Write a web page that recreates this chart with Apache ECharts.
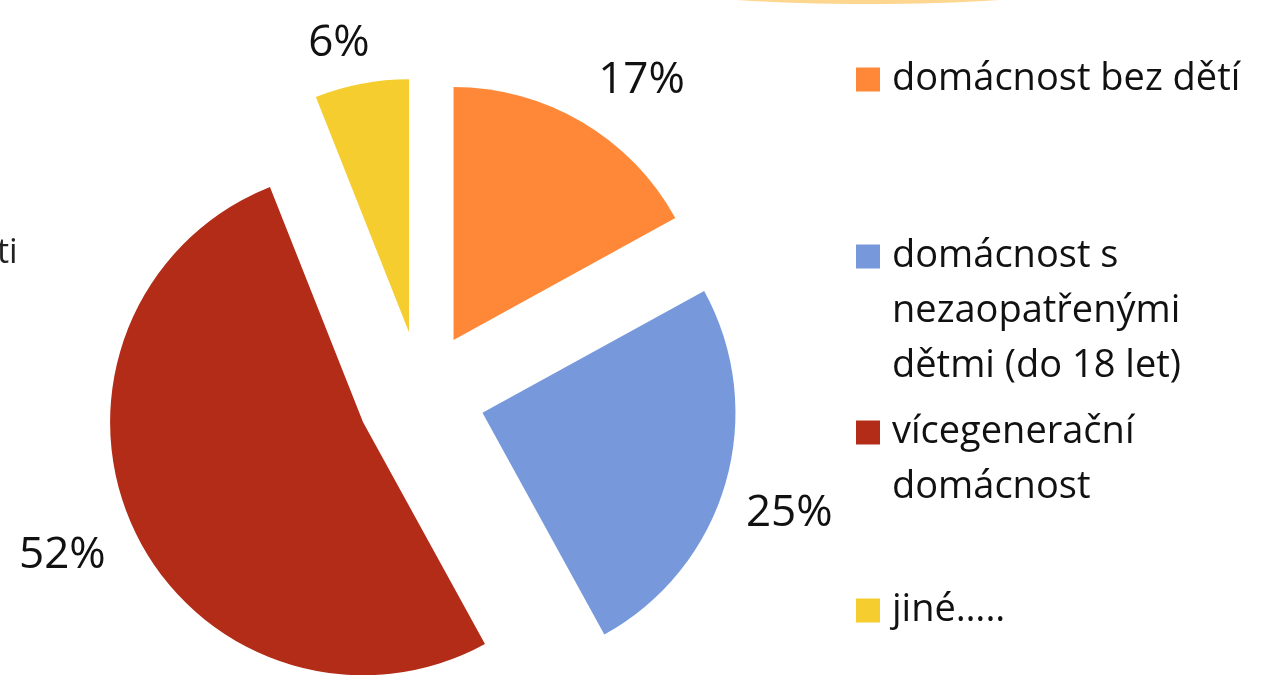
<!DOCTYPE html>
<html>
<head>
<meta charset="utf-8">
<script src="https://cdn.jsdelivr.net/npm/echarts@6/dist/echarts.min.js"></script>
<style>
  html, body { margin: 0; padding: 0; background: #fff; }
  #chart { width: 1261px; height: 675px; }
</style>
</head>
<body>
<div id="chart"></div>
<script>
// data
const categories = [
  "domácnost bez dětí",
  "domácnost s nezaopatřenými dětmi (do 18 let)",
  "vícegenerační domácnost",
  "jiné….."
];
const values = [17, 25, 52, 6];
const colors = ["#FF8838", "#7799DB", "#B22C18", "#F5CD2E"];

// legend text as wrapped in the slide
const legendText = [
  ["domácnost bez dětí"],
  ["domácnost s", "nezaopatřenými", "dětmi (do 18 let)"],
  ["vícegenerační", "domácnost"],
  ["jiné….."]
];
// legend item tops (PowerPoint spreads them unevenly)
const legendTops = [52, 119, 350, 583];
const lineH = 55;

// small label nudges, px
const labelNudge = [[-8, -10], [-20, 20], [10, 10], [20, -4]];

const font = "'Open Sans', sans-serif";

const myChart = echarts.init(document.getElementById("chart"), null, { renderer: "canvas" });

const legends = categories.map((name, i) => ({
  data: [name],
  orient: "vertical",
  left: 856,
  top: legendTops[i],
  padding: 0,
  itemWidth: 24,
  itemHeight: 24,
  icon: "rect",
  selectedMode: false,
  // blank lines on top keep the icon level with the first text line
  formatter: () => {
    const lines = legendText[i];
    return new Array(lines.length - 1).fill("").concat(lines).join("\n");
  },
  textStyle: {
    fontFamily: font,
    fontSize: 38,
    color: "#111",
    lineHeight: lineH,
    padding: [0, 0, 0, 7]
  }
}));

const option = {
  backgroundColor: "#fff",
  animation: false,
  legend: legends,
  graphic: [
    {
      type: "ellipse",
      shape: { cx: 868, cy: -36, rx: 300, ry: 40 },
      style: { fill: "#FDD690" }
    },
    {
      type: "text",
      left: -3,
      top: 236,
      style: { text: "ti", fontFamily: font, fontSize: 34, fill: "#222" }
    }
  ],
  series: [
    {
      name: "Domácnosti",
      type: "pie",
      center: [421, 395],
      radius: 253,
      startAngle: 90,
      clockwise: true,
      selectedMode: "multiple",
      selectedOffset: 64,
      avoidLabelOverlap: false,
      silent: true,
      label: {
        show: true,
        position: "outside",
        formatter: "{d}%",
        fontFamily: font,
        fontSize: 44,
        color: "#111"
      },
      labelLine: { show: false, length: 37, length2: 0 },
      labelLayout: (params) => ({
        dx: labelNudge[params.dataIndex][0],
        dy: labelNudge[params.dataIndex][1]
      }),
      itemStyle: { borderWidth: 0 },
      select: { itemStyle: { borderWidth: 0 } },
      emphasis: { disabled: true },
      data: categories.map((name, i) => ({
        name,
        value: values[i],
        selected: true,
        itemStyle: { color: colors[i] }
      }))
    }
  ]
};
myChart.setOption(option);
</script>
</body>
</html>
